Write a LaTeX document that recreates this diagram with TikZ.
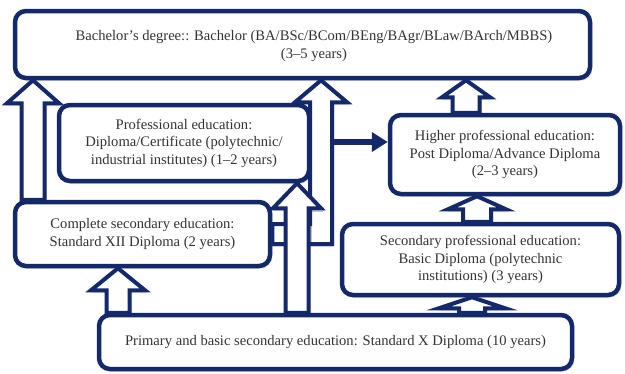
\documentclass[tikz,border=0pt]{standalone}
\usepackage{fontspec}
\setmainfont{Liberation Serif}
\usetikzlibrary{calc,arrows.meta,shadows.blur}

\definecolor{navy}{HTML}{14296B}
\definecolor{inkgray}{HTML}{333333}

% upward block arrow: x, lower node, upper node, shaft half width, head half width, head length
\newcommand{\blockup}[6]{%
  \filldraw[block style] let \p1 = (#2.north), \p2 = (#3.south) in
    (#1pt-#4pt,\y1) -- (#1pt-#4pt,\y2-#6pt) -- (#1pt-#5pt,\y2-#6pt) -- (#1pt,\y2)
    -- (#1pt+#5pt,\y2-#6pt) -- (#1pt+#4pt,\y2-#6pt) -- (#1pt+#4pt,\y1) -- cycle;
}

\begin{document}
\begin{tikzpicture}[x=1pt,y=-1pt,font=\fontsize{14.6}{17.5}\selectfont]
        % Setup the styles for the boxes and arrows
        \tikzset{box style/.style={draw=navy,
                                   line width=4.5pt,
                                   rounded corners=11pt,
                                   fill=white,
                                   text=inkgray,
                                   align=center,
                                   inner sep=0pt,
                                   blur shadow={shadow xshift=1pt, shadow yshift=-1.5pt,
                                                shadow blur steps=6, shadow opacity=50}},
                 block style/.style={draw=navy,
                                     line width=4pt,
                                     fill=white,
                                     line join=miter,
                                     blur shadow={shadow xshift=1pt, shadow yshift=-1.5pt,
                                                  shadow blur steps=5, shadow opacity=45}}}
        \useasboundingbox (0,0) rectangle (625,373);

        % Draw the boxes
        \node[box style, minimum width=575pt, minimum height=67pt] at (302.5,44.5) (bach) {};
        \node[text=inkgray, align=center] at (314,46) (bachtext)
            {Bachelor’s degree:: Bachelor (BA/BSc/BCom/BEng/BAgr/BLaw/BArch/MBBS)\\(3–5 years)};
        \node[box style, minimum width=250pt, minimum height=76pt] at (184,143) (prof)
            {Professional education:\\Diploma/Certificate (polytechnic/\\industrial institutes) (1–2 years)};
        \node[box style, minimum width=230pt, minimum height=79pt] at (505,154.5) (higher)
            {Higher professional education:\\Post Diploma/Advance Diploma\\(2–3 years)};
        \node[box style, minimum width=255pt, minimum height=64pt] at (142.5,234) (comp)
            {Complete secondary education:\\Standard XII Diploma (2 years)};
        \node[box style, minimum width=277pt, minimum height=71pt] at (480.5,259.5) (secprof)
            {Secondary professional education:\\Basic Diploma (polytechnic\\institutions) (3 years)};
        \node[box style, minimum width=473pt, minimum height=54pt] at (335.5,342) (prim)
            {Primary and basic secondary education: Standard X Diploma (10 years)};

        % Bent block arrow from complete secondary up to the bachelor box
        \filldraw[block style] let \p1 = (comp.east), \p2 = (bach.south) in
            (\x1,\y1-10pt) -- (332pt,\y1-10pt) -- (332pt,\y2-22pt) -- (347pt,\y2-22pt)
            -- (321pt,\y2) -- (295pt,\y2-22pt) -- (310pt,\y2-22pt) -- (310pt,\y1+10pt)
            -- (\x1,\y1+10pt) -- cycle;
        \coordinate (elbowside) at (332,142);

        % Connect the boxes with block arrows
        \blockup{297}{prim}{prof}{11.5}{24}{25}
        \blockup{33}{comp}{bach}{11.5}{26}{23}
        \blockup{118}{prim}{comp}{11.5}{27}{22}
        \blockup{466}{higher}{bach}{13.5}{24}{17}
        \blockup{477}{secprof}{higher}{14}{29}{13}
        \blockup{472}{prim}{secprof}{13}{33}{11}

        \draw[navy, line width=6pt, -{Triangle[length=16pt,width=19pt]}]
            (elbowside) -- (elbowside -| higher.west);
\end{tikzpicture}
\end{document}
